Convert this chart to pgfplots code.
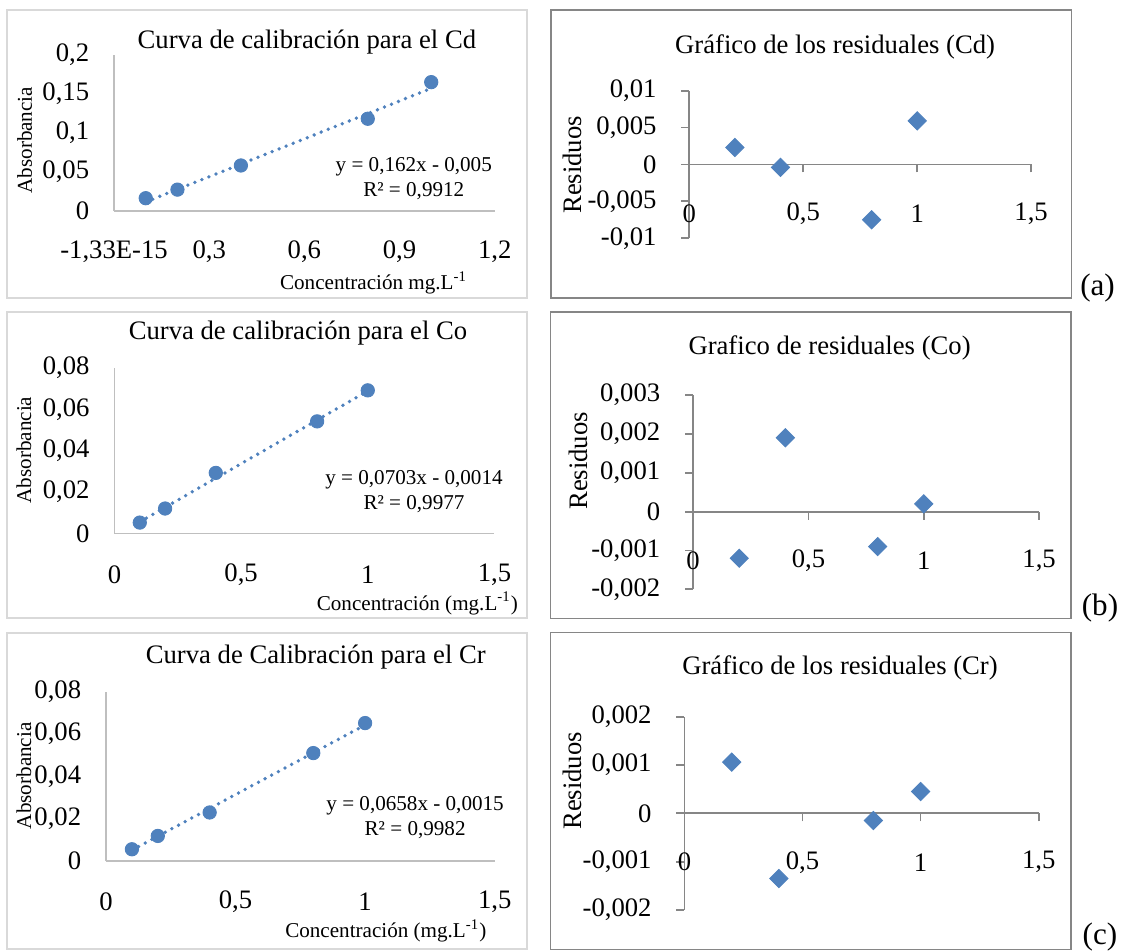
\documentclass[border=0pt]{standalone}
\usepackage{fontspec}
\setmainfont{Liberation Serif}
\usepackage{pgfplots}
\pgfplotsset{compat=1.18}

\definecolor{exblue}{HTML}{4F81BD}
\definecolor{lightframe}{HTML}{D9D9D9}
\definecolor{darkframe}{HTML}{868686}
\definecolor{lightaxis}{HTML}{BFBFBF}

\newcommand{\bigf}{\fontsize{12}{14}\selectfont}
\newcommand{\smallf}{\fontsize{9.5}{11.25}\selectfont}

\pgfplotsset{
  base/.style={
    scale only axis, clip=false,
    scaled x ticks=false, scaled y ticks=false,
    tick label style={font=\bigf, inner sep=0pt},
    xticklabel style={anchor=center, yshift=-18.4pt},
    yticklabel style={anchor=east, xshift=-11pt},
  },
  calib/.style={
    base, axis lines=left,
    x axis line style={-, lightaxis, line width=0.8pt},
    y axis line style={-, lightaxis, line width=0.8pt},
    major tick length=0pt,
  },
  resid/.style={
    base, axis x line=middle, axis y line=left,
    hide obscured x ticks=false, hide obscured y ticks=false,
    x axis line style={-, darkframe, line width=0.8pt},
    y axis line style={-, darkframe, line width=0.8pt},
    tick style={darkframe, line width=0.8pt},
    tick align=outside, major tick length=3.6pt,
  },
  pts/.style={only marks, mark=*, mark size=3pt, exblue, mark options={fill=exblue, draw=exblue}},
  dia/.style={only marks, mark=square*, mark size=2.9pt, exblue, mark options={rotate=45, fill=exblue, draw=exblue}},
  trend/.style={no marks, exblue, line width=1.7pt, line cap=round, dash pattern=on 0pt off 3.4pt},
}

\begin{document}
\begin{tikzpicture}
\useasboundingbox (0,0) rectangle (506.25pt,428.4pt);

% frames
\draw[lightframe, line width=0.9pt] (3.15pt,294.3pt) rectangle (237.15pt,423.9pt);
\draw[lightframe, line width=0.9pt] (3.15pt,150.5pt) rectangle (237.15pt,288.1pt);
\draw[lightframe, line width=0.9pt] (3.15pt,1.35pt) rectangle (237.15pt,143.7pt);
\draw[darkframe, line width=0.7pt] (247.95pt,294.3pt) rectangle (482.2pt,423.9pt);
\draw[darkframe, line width=0.7pt] (247.7pt,150.0pt) rectangle (481.95pt,288.1pt);
\draw[darkframe, line width=0.7pt] (247.7pt,1.1pt) rectangle (481.95pt,143.7pt);

% (a) calibration Cd
\begin{axis}[calib, at={(51.3pt,333.6pt)}, anchor=south west,
  width=171.3pt, height=70.1pt,
  xmin=0, xmax=1.2, ymin=0, ymax=0.2,
  xtick={0,0.3,0.6,0.9,1.2}, xticklabels={{-1,33E-15},{0,3},{0,6},{0,9},{1,2}},
  ytick={0,0.05,0.1,0.15,0.2}, yticklabels={{0},{0,05},{0,1},{0,15},{0,2}}]
\addplot[trend] coordinates {(0.1,0.0112) (1.0,0.157)};
\addplot[pts] coordinates {(0.1,0.016) (0.2,0.027) (0.4,0.058) (0.8,0.118) (1.0,0.165)};
\end{axis}
\node[font=\bigf] at (138.1pt,409.6pt) {Curva de calibración para el Cd};
\node[font=\smallf, rotate=90] at (11.1pt,365.3pt) {Absorbancia};
\node[font=\smallf] at (168.1pt,301.1pt) {Concentración mg.L\textsuperscript{-1}};
\node[font=\smallf, align=center] at (186.2pt,348.2pt) {y = 0,162x - 0,005\\R² = 0,9912};

% (a) residuals Cd
\begin{axis}[resid, at={(310.2pt,321.2pt)}, anchor=south west,
  width=153.8pt, height=66.4pt,
  xmin=0, xmax=1.5, ymin=-0.01, ymax=0.01,
  xtick={0,0.5,1,1.5}, xticklabels={{0},{0,5},{1},{1,5}},
  ytick={-0.01,-0.005,0,0.005,0.01}, yticklabels={{-0,01},{-0,005},{0},{0,005},{0,01}}]
\addplot[dia] coordinates {(0.2,0.0023) (0.4,-0.0004) (0.8,-0.0075) (1.0,0.0059)};
\end{axis}
\node[font=\bigf] at (375.8pt,407.4pt) {Gráfico de los residuales (Cd)};
\node[font=\bigf, rotate=90] at (257.7pt,354.2pt) {Residuos};
\node[font=\fontsize{14}{16}\selectfont] at (493.9pt,298.8pt) {(a)};

% (b) calibration Co
\begin{axis}[calib, at={(51.5pt,188.3pt)}, anchor=south west,
  width=171.0pt, height=74.5pt,
  xmin=0, xmax=1.5, ymin=0, ymax=0.08,
  xtick={0,0.5,1,1.5}, xticklabels={{0},{0,5},{1},{1,5}},
  ytick={0,0.02,0.04,0.06,0.08}, yticklabels={{0},{0,02},{0,04},{0,06},{0,08}}]
\addplot[trend] coordinates {(0.1,0.00563) (1.0,0.0689)};
\addplot[pts] coordinates {(0.1,0.0053) (0.2,0.0121) (0.4,0.0293) (0.8,0.0542) (1.0,0.0692)};
\end{axis}
\node[font=\bigf] at (134.1pt,278.4pt) {Curva de calibración para el Co};
\node[font=\smallf, rotate=90] at (10.8pt,225.9pt) {Absorbancia};
\node[font=\smallf] at (187.8pt,156.9pt) {Concentración (mg.L\textsuperscript{-1})};
\node[font=\smallf, align=center] at (186.3pt,207pt) {y = 0,0703x - 0,0014\\R² = 0,9977};

% (b) residuals Co
\begin{axis}[resid, at={(311.9pt,163.2pt)}, anchor=south west,
  width=155.7pt, height=87.4pt,
  xmin=0, xmax=1.5, ymin=-0.002, ymax=0.003,
  xtick={0,0.5,1,1.5}, xticklabels={{0},{0,5},{1},{1,5}},
  ytick={-0.002,-0.001,0,0.001,0.002,0.003}, yticklabels={{-0,002},{-0,001},{0},{0,001},{0,002},{0,003}}]
\addplot[dia] coordinates {(0.2,-0.0012) (0.4,0.0019) (0.8,-0.0009) (1.0,0.0002)};
\end{axis}
\node[font=\bigf] at (373.3pt,271.7pt) {Grafico de residuales (Co)};
\node[font=\bigf, rotate=90] at (260.2pt,221.0pt) {Residuos};
\node[font=\fontsize{14}{16}\selectfont] at (495pt,154.8pt) {(b)};

% (c) calibration Cr
\begin{axis}[calib, at={(47.7pt,41.0pt)}, anchor=south west,
  width=174.9pt, height=76.1pt,
  xmin=0, xmax=1.5, ymin=0, ymax=0.08,
  xtick={0,0.5,1,1.5}, xticklabels={{0},{0,5},{1},{1,5}},
  ytick={0,0.02,0.04,0.06,0.08}, yticklabels={{0},{0,02},{0,04},{0,06},{0,08}}]
\addplot[trend] coordinates {(0.1,0.00508) (1.0,0.0643)};
\addplot[pts] coordinates {(0.1,0.0055) (0.2,0.0118) (0.4,0.0229) (0.8,0.0510) (1.0,0.0652)};
\end{axis}
\node[font=\bigf] at (142.1pt,132.9pt) {Curva de Calibración para el Cr};
\node[font=\smallf, rotate=90] at (10.8pt,79.3pt) {Absorbancia};
\node[font=\smallf] at (173.6pt,9.6pt) {Concentración (mg.L\textsuperscript{-1})};
\node[font=\smallf, align=center] at (186.8pt,60.7pt) {y = 0,0658x - 0,0015\\R² = 0,9982};

% (c) residuals Cr
\begin{axis}[resid, at={(308.0pt,18.9pt)}, anchor=south west,
  width=159.4pt, height=87.0pt,
  xmin=0, xmax=1.5, ymin=-0.002, ymax=0.002,
  xtick={0,0.5,1,1.5}, xticklabels={{0},{0,5},{1},{1,5}},
  ytick={-0.002,-0.001,0,0.001,0.002}, yticklabels={{-0,002},{-0,001},{0},{0,001},{0,002}}]
\addplot[dia] coordinates {(0.2,0.00106) (0.4,-0.00135) (0.8,-0.00015) (1.0,0.00045)};
\end{axis}
\node[font=\bigf] at (378.0pt,127.7pt) {Gráfico de los residuales (Cr)};
\node[font=\bigf, rotate=90] at (257.7pt,77.0pt) {Residuos};
\node[font=\fontsize{14}{16}\selectfont] at (495pt,6.8pt) {(c)};
\end{tikzpicture}
\end{document}
